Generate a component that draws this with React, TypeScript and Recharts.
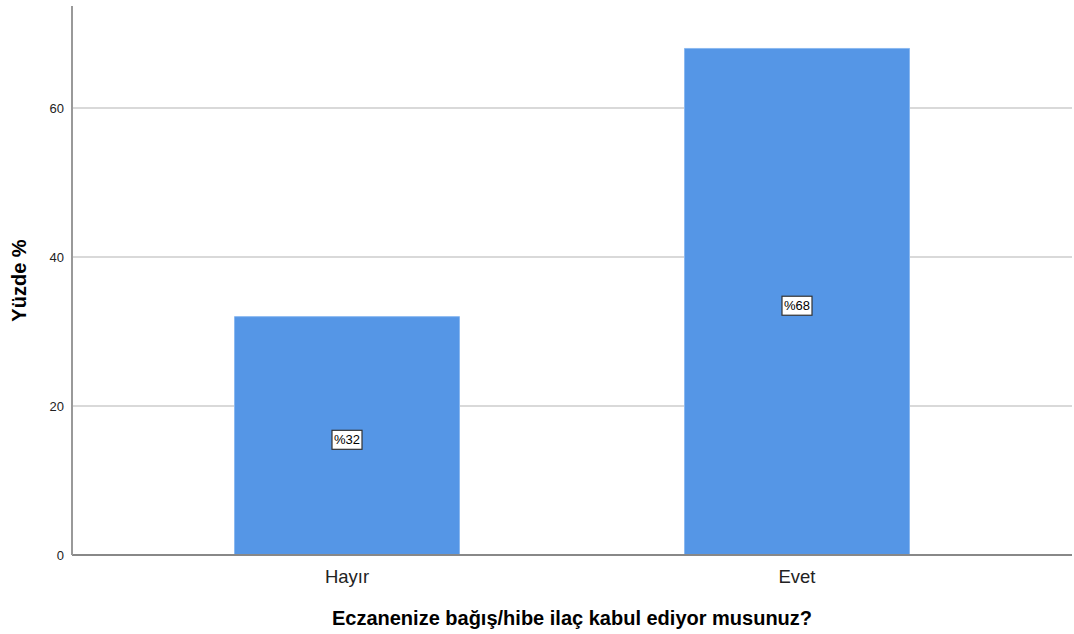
import { BarChart, Bar, XAxis, YAxis, CartesianGrid, LabelList } from 'recharts';

const categories = ['Hayır', 'Evet'];
const percents = [32, 68];
const yTicks = [0, 20, 40, 60];
const gridValues = [20, 40, 60];

const data = categories.map((c, i) => ({ name: c, value: percents[i] }));

const FONT = '"Liberation Sans", Arial, sans-serif';

function BoxLabel(props: any) {
  const { x, y, width, height, value } = props;
  const cx = x + width / 2;
  const cy = y + height / 2 + 4;
  const text = `%${value}`;
  const w = 30;
  const h = 19;
  return (
    <g>
      <rect x={cx - w / 2} y={cy - h / 2} width={w} height={h} fill="#fff" stroke="#333" strokeWidth={1.2} />
      <text x={cx} y={cy + 4.5} textAnchor="middle" fontSize={13} fontFamily={FONT} fill="#000">
        {text}
      </text>
    </g>
  );
}

export default function App() {
  return (
    <div style={{ position: 'absolute', left: 0, top: 0, background: '#fff' }}>
      <BarChart
        width={1074}
        height={634}
        data={data}
        margin={{ top: 6, right: 2, left: 0, bottom: 0 }}
        barCategoryGap="25%"
      >
        <CartesianGrid vertical={false} horizontalValues={gridValues} stroke="#d9d9d9" strokeWidth={2} />
        <XAxis
          dataKey="name"
          padding={{ left: 50, right: 50 }}
          height={79}
          tickLine={false}
          axisLine={{ stroke: '#888', strokeWidth: 2 }}
          tick={{ fontSize: 18.5, fill: '#222', fontFamily: FONT }}
          tickMargin={9}
          label={{ value: 'Eczanenize bağış/hibe ilaç kabul ediyor musunuz?', position: 'insideBottom', offset: 9, fontSize: 20, fontWeight: 'bold', fill: '#000', fontFamily: FONT }}
        />
        <YAxis
          width={72}
          domain={[0, 73.7]}
          ticks={yTicks}
          tickLine={false}
          axisLine={{ stroke: '#999', strokeWidth: 2 }}
          tick={{ fontSize: 13, fill: '#222', fontFamily: FONT }}
          tickMargin={2}
          label={{ value: 'Yüzde %', angle: -90, position: 'insideLeft', offset: 19, fontSize: 20, fontWeight: 'bold', fill: '#000', fontFamily: FONT, style: { textAnchor: 'middle' } }}
        />
        <Bar dataKey="value" fill="#5596e6" stroke="#8ab8f0" strokeWidth={1} isAnimationActive={false}>
          <LabelList dataKey="value" content={BoxLabel} />
        </Bar>
      </BarChart>
    </div>
  );
}
